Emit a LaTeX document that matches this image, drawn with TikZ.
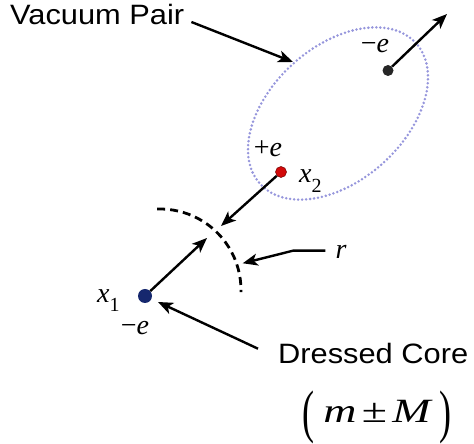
\documentclass[tikz,border=0pt]{standalone}
\usepackage{fontspec}
\setmainfont{Liberation Serif}
\newfontfamily\sansf{Liberation Sans}
\newfontfamily\serif{Liberation Serif}
\usetikzlibrary{arrows.meta}
\definecolor{navyc}{RGB}{22,40,110}
\definecolor{redc}{RGB}{210,10,10}
\definecolor{ellc}{RGB}{150,150,220}
\newcommand{\subs}[2]{\raisebox{#2}{\fontsize{20}{20}\selectfont\upshape #1}}
\begin{document}
\begin{tikzpicture}[x=1pt,y=1pt,
  arr/.style={line width=2.4pt, -{Stealth[length=15pt,width=12pt,inset=4pt]}},
  lab/.style={inner sep=0pt, font=\serif\fontsize{28}{28}\selectfont\itshape},
  big/.style={inner sep=0pt, font=\sansf\fontsize{28}{28}\selectfont},
  dot/.style={circle, inner sep=0pt}]
\useasboundingbox (0,0) rectangle (474,444);
% vacuum pair ellipse
\draw[color=ellc, line width=2.8pt, dash pattern=on 0pt off 4pt, line cap=round,
      rotate around={42:(338,330.5)}] (338,330.5) ellipse [x radius=105, y radius=67];
% dashed arc of radius r
\draw[line width=2.8pt, dash pattern=on 8pt off 5pt] (160,154) ++(92:81) arc[start angle=92, end angle=-1.5, radius=81];
% coordinates
\coordinate (pnTip) at (447,430);
\coordinate (ppTip) at (221,218);
\coordinate (coreTip) at (207,206);
\coordinate (ellTip) at (293,382);
\coordinate (rBend) at (293,193.3);
\coordinate (rTip) at (242.7,180.7);
\coordinate (dcTip) at (158,142);
% particles
\node[dot, fill=black!85, minimum size=11pt] (pn) at (388,373.5) {};
\node[dot, fill=redc, draw=red!45!black, line width=0.5pt, minimum size=11pt] (pp) at (281,272) {};
\node[dot, fill=navyc, minimum size=14pt] (core) at (145,148) {};
% texts
\node[big, anchor=base west] (vp) at (10,419) {\scalebox{1.1}[1]{Vacuum Pair}};
\node[big, anchor=base west] (dc) at (278,80.3) {\scalebox{1.1}[1]{Dressed Core}};
\node[lab, anchor=base] (pnl) at (375,391) {{\upshape −}e};
\node[lab, anchor=base] (ppl) at (268,287) {{\upshape +}e};
\node[lab, anchor=base west] (x2) at (299,261) {x\subs{2}{-10pt}};
\node[lab, anchor=base west] (x1) at (97,141) {x\subs{1}{-9pt}};
\node[lab, anchor=base] (cl) at (135,109) {{\upshape −}e};
\node[lab, anchor=base] (rl) at (341,185.7) {r};
\node[inner sep=0pt, anchor=base, font=\serif\fontsize{34}{34}\selectfont] (mM) at (377,21)
  {\scalebox{1.35}[1]{\itshape m\hspace{4pt}\upshape ±\hspace{4pt}\itshape M}};
\node[inner sep=0pt, anchor=west, font=\serif\fontsize{30}{30}\selectfont] (lp) at (302,26.5) {\scalebox{1.2}[1.95]{(}};
\node[inner sep=0pt, anchor=east, font=\serif\fontsize{30}{30}\selectfont] (rp) at (452,26.5) {\scalebox{1.2}[1.95]{)}};
% arrows
\draw[arr] ([shift={(7pt,3pt)}]vp.base east) -- (ellTip);
\draw[arr] (pn) -- (pnTip);
\draw[arr] (pp) -- (ppTip);
\draw[arr] (core) -- (coreTip);
\draw[arr] ([shift={(-10pt,7.6pt)}]rl.base west) -- (rBend) -- (rTip);
\draw[arr] ([shift={(-20pt,15pt)}]dc.base west) -- (dcTip);
\end{tikzpicture}
\end{document}
